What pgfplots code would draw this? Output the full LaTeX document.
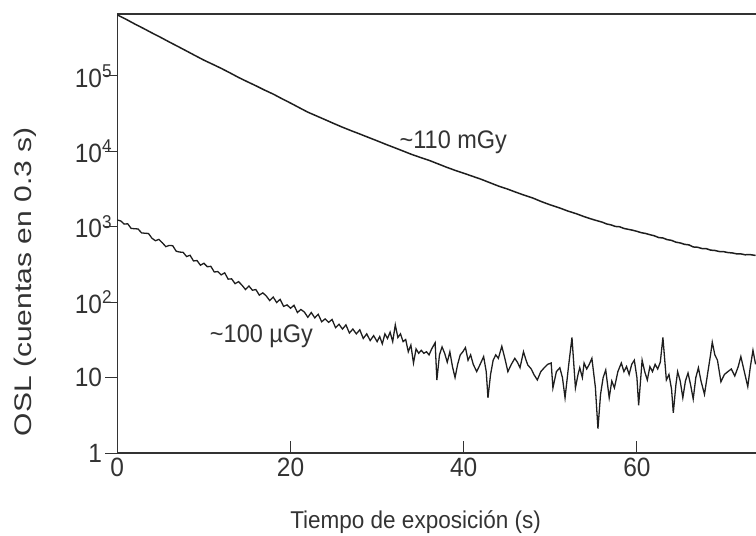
\documentclass[border=0pt]{standalone}
\usepackage{pgfplots}
\pgfplotsset{compat=1.18}
\usepackage{fontspec}
\setmainfont{Liberation Sans}
\definecolor{ink}{HTML}{1E1E1E}
\definecolor{txt}{HTML}{333333}
\begin{document}
\begin{tikzpicture}
\begin{axis}[
  scale only axis,
  width=638.7bp, height=439bp,
  ymode=log,
  xmin=0, xmax=73.75,
  ymin=1, ymax=663000,
  axis x line=box, axis y line=left,
  axis line style={-, txt, line width=1.1pt},
  xtick pos=lower, ytick pos=left,
  xtick={0,20,40,60}, xticklabels={0,20,40,60},
  ytick={1,10,100,1000,10000,100000},
  yticklabels={1,10,10\rlap{\textsuperscript{2}},10\rlap{\textsuperscript{3}},10\rlap{\textsuperscript{4}},10\rlap{\textsuperscript{5}}},
  minor tick num=0, yminorticks=false,
  xtick align=inside, ytick align=outside,
  major tick length=12bp,
  tick style={txt, line width=1pt},
  ticklabel style={font=\fontsize{24.5bp}{28bp}\selectfont, text=txt, yscale=1.08},
  yticklabel style={inner sep=3bp},
  xticklabel style={inner sep=4.5bp},
  xlabel={Tiempo de exposición (s)},
  ylabel={OSL (cuentas en 0.3 s)},
  every axis x label/.style={at={(axis description cs:0.467,-0.157)}, anchor=center,
    font=\fontsize{22.5bp}{26bp}\selectfont, text=txt, yscale=1.08},
  every axis y label/.style={at={(axis description cs:-0.144,0.39)}, anchor=center, rotate=90,
    xscale=1.25, font=\fontsize{24bp}{28bp}\selectfont, text=txt},
  clip=true,
]
% ~110 mGy
\addplot[ink, line width=1.5pt] coordinates {
(0,645000)(1,565000)(2,490000)(3,428000)(4,372000)(5,325000)(6,282000)(7,246000)
(8,214000)(9,186000)(10,162000)(11,143000)(12,126000)(13,110000)(14,95500)(15,84000)
(16,74100)(17,65000)(18,57500)(19,50000)(20,43700)(21,38000)(22,33100)(23,29500)
(24,26300)(25,23400)(26,20900)(27,18800)(28,17000)(29,15300)(30,13800)(31,12400)
(32,11200)(33,10100)(34,9100)(35,8300)(36,7600)(37,6850)(38,6170)(39,5600)
(40,5130)(41,4680)(42,4270)(43,3850)(44,3470)(45,3180)(46,2880)(47,2620)
(48,2400)(49,2150)(50,1950)(51,1790)(52,1620)(53,1490)(54,1350)(55,1240)(56,1150)
(56.5,1090)(57,1060)(57.5,1010)(58,1000)(58.5,950)(59,925)(59.5,900)(60,870)
(60.5,835)(61,815)(61.5,785)(62,760)(62.5,720)(63,710)(63.5,675)(64,660)
(64.5,625)(65,610)(65.5,585)(66,575)(66.5,540)(67,535)(67.5,515)(68,513)
(68.5,490)(69,485)(69.5,470)(70,468)(70.5,455)(71,450)(71.5,438)(72,437)
(72.5,425)(73,428)(73.7,417)
};
% ~100 uGy
\addplot[ink, line width=1.3pt] coordinates {
(0.0,1230)(0.4,1195)(0.8,1085)(1.2,1096)(1.6,950)(2.0,942)(2.4,935)(2.8,830)
(3.2,820)(3.6,815)(4.0,705)(4.4,653)(4.8,680)(5.2,614)(5.6,545)(6.0,566)
(6.4,561)(6.8,474)(7.2,462)(7.6,458)(8.0,403)(8.4,419)(8.8,352)(9.2,357)
(9.6,309)(10.0,328)(10.4,295)(10.8,299)(11.2,251)(11.6,255)(12.0,230)(12.4,245)
(12.8,202)(13.2,204)(13.6,176)(14.0,187)(14.4,168)(14.8,147)(15.2,164)(15.6,144)
(16.0,147)(16.4,124)(16.8,133)(17.2,121)(17.6,105)(18.0,117)(18.4,99)(18.8,109)
(19.2,88)(19.6,92)(20.0,83)(20.4,91)(20.8,73)(21.2,80)(21.6,74)(22.0,63)
(22.4,73)(22.8,62)(23.2,69)(23.6,55)(24.0,60)(24.4,54)(24.8,59)(25.2,46)
(25.6,51)(26.0,44)(26.4,50)(26.8,39)(27.2,44)(27.6,38)(28.0,43)(28.4,33)
(28.8,38)(29.2,31)(29.6,36)(30.0,30)
(30.3,35)(30.6,28)(30.9,38)
(31.2,33)(31.5,40)(31.8,30)(32.1,50)(32.4,34)(32.7,38)(33.0,30)(33.3,32)
(33.6,22)(33.9,27)(34.2,15.6)(34.5,24)(34.8,21)(35.1,23)(35.4,21)(35.7,22)
(36.0,20)(36.3,24)(36.7,29)(36.9,9.3)(37.2,20)(37.5,25.5)(37.8,21)(38.1,16)
(38.4,22)(38.7,14)(39.0,10)(39.3,15)(39.6,20)(39.9,22)(40.2,25)(40.5,17)
(40.8,20)(41.1,15)(41.5,12)(41.9,15)(42.3,19)(42.6,12)(42.8,5.4)(43.1,11)
(43.4,17)(43.7,20)(44.0,18)(44.4,26)(44.8,17)(45.1,12)(45.5,15)(45.9,18)
(46.2,16)(46.5,13.5)(46.9,22)(47.2,17)(47.4,14.7)(47.8,13)(48.1,11)(48.5,9.3)
(48.9,12)(49.3,13.5)(49.7,15)(50.1,15.6)(50.3,7.3)(50.7,12)(51.1,13.5)(51.4,10)
(51.7,5.4)(52.1,14)(52.5,34)(52.9,7.3)(53.2,11)(53.4,13.5)(53.7,10)(53.9,15.6)
(54.2,13)(54.5,15)(54.8,18)(55.2,7.5)(55.5,2.1)(55.8,6)(56.1,10)(56.4,12.6)
(56.8,5.4)(57.1,9)(57.4,7.3)(57.8,12)(58.2,15.6)(58.5,12)(58.8,14)(59.1,11)
(59.4,15)(59.7,17)(60.0,10)(60.2,4.3)(60.6,17)(60.9,12)(61.2,9.3)(61.5,14)
(61.8,12)(62.1,15)(62.4,13)(62.7,16)(63.0,34)(63.4,9.3)(63.7,11)(64.0,7)
(64.2,3.4)(64.5,8)(64.7,12)(65.0,9)(65.3,5.4)(65.6,9)(65.9,11.5)(66.2,8)
(66.5,5.2)(66.8,10)(67.1,13.5)(67.4,9)(67.8,6)(68.2,12)(68.5,20)(68.7,29.5)
(69.0,20)(69.3,17)(69.7,8.8)(70.1,11)(70.5,12)(70.9,13)(71.3,10.5)(71.7,14)
(72.0,19)(72.4,12)(72.8,7.6)(73.1,14)(73.4,23)(73.7,15)
};
\node[font=\fontsize{23.5bp}{28bp}\selectfont, text=txt, inner sep=1pt, yscale=1.08]
  at (axis cs:38.8,13000) {\textasciitilde110 mGy};
\node[font=\fontsize{23.5bp}{28bp}\selectfont, text=txt, inner sep=1pt, yscale=1.08]
  at (axis cs:16.65,35) {\textasciitilde100 µGy};
\end{axis}
\pgfresetboundingbox
\path[use as bounding box] (-117.3bp,-83bp) rectangle (638.7bp,453bp);
\end{tikzpicture}
\end{document}
